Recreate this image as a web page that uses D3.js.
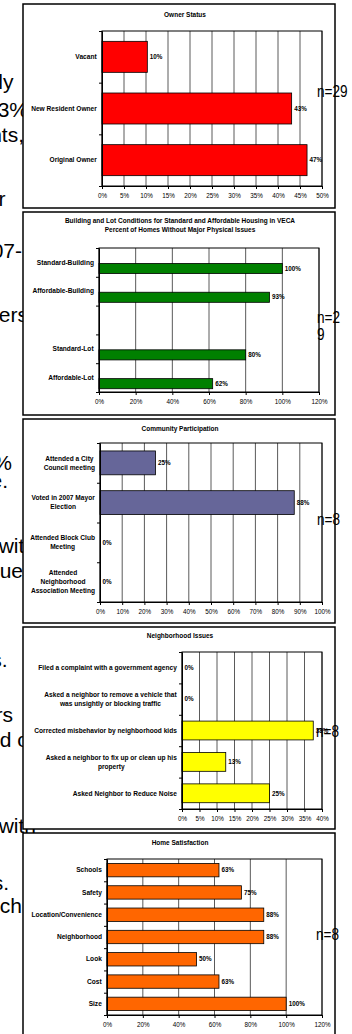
<!DOCTYPE html>
<html>
<head>
<meta charset="utf-8">
<script src="https://cdn.jsdelivr.net/npm/d3@7"></script>
<style>
body { margin: 0; background: #fff; }
svg { display: block; font-family: "Liberation Sans", Arial, sans-serif; }
</style>
</head>
<body>
<svg id="slide" width="352" height="1034"></svg>
<script>
// owner status
const ownerCats = [['Vacant'], ['New Resident Owner'], ['Original Owner']];
const ownerVals = [10.3, 43.1, 46.6];
const ownerTicks = [0, 5, 10, 15, 20, 25, 30, 35, 40, 45, 50];

// building and lot conditions (third row is an empty category)
const condCats = [['Standard-Building'], ['Affordable-Building'], [''], ['Standard-Lot'], ['Affordable-Lot']];
const condVals = [100, 93, null, 80, 62];
const condTicks = [0, 20, 40, 60, 80, 100, 120];

// community participation
const partCats = [
    ['Attended a City', 'Council meeting'],
    ['Voted in 2007 Mayor', 'Election'],
    ['Attended Block Club', 'Meeting'],
    ['Attended', 'Neighborhood', 'Association Meeting']
];
const partVals = [25, 87.5, 0, 0];
const partTicks = [0, 10, 20, 30, 40, 50, 60, 70, 80, 90, 100];

// neighborhood issues
const issueCats = [
    ['Filed a complaint with a government agency'],
    ['Asked a neighbor to remove a vehicle that', 'was unsightly or blocking traffic'],
    ['Corrected misbehavior by neighborhood kids'],
    ['Asked a neighbor to fix up or clean up his', 'property'],
    ['Asked Neighbor to Reduce Noise']
];
const issueVals = [0, 0, 37.5, 12.5, 25];
const issueTicks = [0, 5, 10, 15, 20, 25, 30, 35, 40];

// home satisfaction
const homeCats = [['Schools'], ['Safety'], ['Location/Convenience'], ['Neighborhood'], ['Look'], ['Cost'], ['Size']];
const homeVals = [62.5, 75, 87.5, 87.5, 50, 62.5, 100];
const homeTicks = [0, 20, 40, 60, 80, 100, 120];

const sampleSizes = [['n=29'], ['n=2', '9'], ['n=8'], ['n=8'], ['n=8']];

// slide text peeking out behind the charts
const slideWords = ['recently', 'of 43%', 'residents,', 'other', '2007-', 'owners', '88%', 'vote.',
    'with', 'issue', 'kids.', 'neighbors', 'and or', 'with', 'issues.', 'which'];

const svg = d3.select('#slide');

// 渲染背景文字 (layout only: baseline, right edge)
const wordPos = [[89, 13.5], [117, 28], [142, 24], [206, 5.5], [258, 22], [322, 28], [470, 12], [488, 8],
    [553, 36], [578, 23], [667, 7.5], [722, 13], [747, 36], [833, 36], [890, 9], [913, 22]];
const wordGroup = svg.append('g');
wordGroup.selectAll('text')
    .data(slideWords)
    .join('text')
    .attr('x', (d, i) => wordPos[i][1])
    .attr('y', (d, i) => wordPos[i][0])
    .attr('text-anchor', 'end')
    .attr('font-size', 21)
    .attr('fill', '#000')
    .text(d => d);

const fmt = d => Math.round(d) + '%';

// 渲染单个图表
function drawPanel(o) {
    let g = svg.append('g');
    let [bx0, by0, bx1, by1] = o.box;
    let [px0, py0, px1, py1] = o.plot;

    g.append('rect')
        .attr('x', bx0).attr('y', by0)
        .attr('width', bx1 - bx0).attr('height', by1 - by0)
        .attr('fill', '#fff')
        .attr('stroke', '#000')
        .attr('stroke-width', 1.5);

    g.append('text')
        .attr('x', o.titleX)
        .attr('y', o.titleY)
        .attr('text-anchor', 'middle')
        .attr('font-size', 6.5)
        .attr('font-weight', 'bold')
        .selectAll('tspan')
        .data(o.title)
        .join('tspan')
        .attr('x', o.titleX)
        .attr('dy', (d, i) => i ? 9 : 0)
        .text(d => d);

    let x = d3.scaleLinear()
        .domain([0, o.ticks[o.ticks.length - 1]])
        .range([px0, px1]);
    let y = d3.scaleBand()
        .domain(d3.range(o.cats.length))
        .range([py0, py1])
        .paddingInner(0.4)
        .paddingOuter(0.2);
    let step = y.step();

    // gridlines
    g.selectAll('line.grid')
        .data(o.ticks)
        .join('line')
        .attr('class', 'grid')
        .attr('x1', d => x(d)).attr('x2', d => x(d))
        .attr('y1', py0).attr('y2', py1)
        .attr('stroke', '#5a5a5a')
        .attr('stroke-width', 1);

    g.append('rect')
        .attr('x', px0).attr('y', py0)
        .attr('width', px1 - px0).attr('height', py1 - py0)
        .attr('fill', 'none')
        .attr('stroke', '#000')
        .attr('stroke-width', 1);

    // bar position inside band
    let barY, barH;
    if (o.cluster) {
        let sub = d3.scaleBand().domain(['none', 'val']).range([0, step])
            .paddingInner(0.17).paddingOuter(0.27);
        barY = i => y(i) - step * 0.2 + sub('val');
        barH = sub.bandwidth();
    } else {
        barY = i => y(i);
        barH = y.bandwidth();
    }

    let idx = d3.range(o.vals.length).filter(i => o.vals[i] !== null);
    g.selectAll('rect.bar')
        .data(idx)
        .join('rect')
        .attr('class', 'bar')
        .attr('x', px0)
        .attr('y', i => barY(i))
        .attr('width', i => x(o.vals[i]) - px0)
        .attr('height', barH)
        .attr('fill', o.color)
        .attr('stroke', '#000')
        .attr('stroke-width', 0.8);

    g.selectAll('text.val')
        .data(idx)
        .join('text')
        .attr('class', 'val')
        .attr('x', i => x(o.vals[i]) + 2.5)
        .attr('y', i => barY(i) + barH / 2 + 2.2)
        .attr('font-size', 6.3)
        .attr('font-weight', 'bold')
        .text(i => fmt(o.vals[i]));

    // x axis
    let xAxis = g.append('g')
        .attr('transform', 'translate(0,' + py1 + ')')
        .call(d3.axisBottom(x).tickValues(o.ticks).tickFormat(d => d + '%').tickSize(3).tickSizeOuter(0));
    xAxis.select('.domain').attr('stroke', '#000');
    xAxis.selectAll('.tick line').attr('stroke', '#000');
    xAxis.selectAll('.tick text')
        .attr('font-family', '"Liberation Sans", Arial, sans-serif')
        .attr('font-size', 6.3)
        .attr('fill', '#000')
        .attr('dy', null)
        .attr('y', 12);

    // y axis: ticks between categories
    let yEdge = d3.scaleLinear().domain([0, o.cats.length]).range([py0, py1]);
    let yAxis = g.append('g')
        .attr('transform', 'translate(' + px0 + ',0)')
        .call(d3.axisLeft(yEdge).tickValues(d3.range(o.cats.length + 1)).tickFormat('').tickSize(3).tickSizeOuter(0));
    yAxis.select('.domain').attr('stroke', '#000');
    yAxis.selectAll('.tick line').attr('stroke', '#000');

    // category labels
    let labelRight = px0 - 5;
    o.cats.forEach((lines, i) => {
        let cy = y(i) + y.bandwidth() / 2;
        let t = g.append('text')
            .attr('font-size', 6.6)
            .attr('font-weight', 'bold')
            .attr('text-anchor', 'middle');
        lines.forEach((s, j) => {
            t.append('tspan')
                .attr('x', 0)
                .attr('y', cy + 2.2 + (j - (lines.length - 1) / 2) * 9)
                .text(s);
        });
        let w = t.node().getBBox().width;
        t.attr('transform', 'translate(' + (labelRight - w / 2) + ',0)');
    });
}

const boxes = [[23, 4, 335, 208], [23, 212, 335, 415], [23, 419, 335, 623], [23, 627, 335, 829], [23, 833, 335, 1044]];

drawPanel({
    box: boxes[0], plot: [102, 31, 322, 186],
    title: ['Owner Status'], titleX: 185, titleY: 17,
    cats: ownerCats, vals: ownerVals, ticks: ownerTicks, color: '#ff0000'
});
drawPanel({
    box: boxes[1], plot: [99, 248, 319, 392],
    title: ['Building and Lot Conditions for Standard and Affordable Housing in VECA', 'Percent of Homes Without Major Physical Issues'],
    titleX: 180, titleY: 223,
    cats: condCats, vals: condVals, ticks: condTicks, color: '#008000', cluster: true
});
drawPanel({
    box: boxes[2], plot: [100, 443, 322, 602],
    title: ['Community Participation'], titleX: 180, titleY: 431,
    cats: partCats, vals: partVals, ticks: partTicks, color: '#666699'
});
drawPanel({
    box: boxes[3], plot: [182, 652, 322, 809],
    title: ['Neighborhood Issues'], titleX: 180, titleY: 638,
    cats: issueCats, vals: issueVals, ticks: issueTicks, color: '#ffff00'
});
drawPanel({
    box: boxes[4], plot: [107, 859, 322, 1015],
    title: ['Home Satisfaction'], titleX: 180, titleY: 845,
    cats: homeCats, vals: homeVals, ticks: homeTicks, color: '#ff6600'
});

// 渲染样本数
const nPos = [[97, 317], [323, 317], [525, 317], [737, 316], [940, 316]];
const nx = 0.8;
const nGroup = svg.append('g').attr('transform', 'scale(' + nx + ',1)');
sampleSizes.forEach((lines, i) => {
    nGroup.append('text')
        .attr('font-size', 17)
        .selectAll('tspan')
        .data(lines)
        .join('tspan')
        .attr('x', nPos[i][1] / nx)
        .attr('y', (d, j) => nPos[i][0] + j * 17)
        .text(d => d);
});
</script>
</body>
</html>
